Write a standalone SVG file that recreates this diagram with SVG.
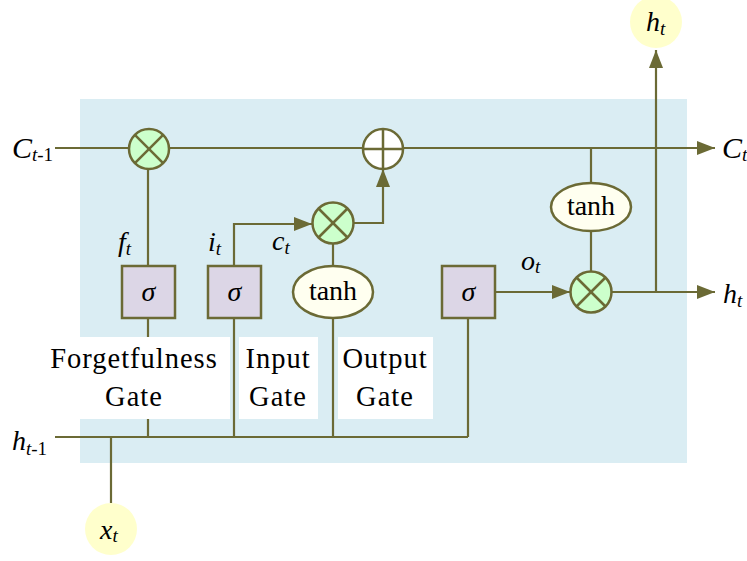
<svg xmlns="http://www.w3.org/2000/svg" width="747" height="561" viewBox="0 0 747 561" font-family="Liberation Serif, serif">
<defs>
<marker id="arr" markerUnits="userSpaceOnUse" viewBox="0 0 18 14" refX="18" refY="7" markerWidth="18" markerHeight="14" orient="auto">
<path d="M0,0 L18,7 L0,14 Z" fill="#6b6a35"/>
</marker>
</defs>
<style>
.ln{stroke:#6b6a35;stroke-width:2.2;fill:none}
.mul{fill:#ccffcc;stroke:#6b6a35;stroke-width:2.5}
.add{fill:#ffffff;stroke:#6b6a35;stroke-width:2.5}
.x{stroke:#6b6a35;stroke-width:2.5}
.box{fill:#dcd6e6;stroke:#6b6a35;stroke-width:2.5}
.ell{fill:#fffff0;stroke:#6b6a35;stroke-width:2.5}
.io{fill:#ffffcc}
.wb{fill:#ffffff}
.lbl{font-size:28.5px;letter-spacing:1px;text-anchor:middle}
.it{font-style:italic}
.big{font-size:28px}
.sub{font-size:19px}
</style>
<rect id="background" x="80" y="99" width="607" height="364" fill="#daedf3"/>
<g id="connectors">
<line class="ln" x1="55" y1="148" x2="715" y2="148" marker-end="url(#arr)"/>
<line class="ln" x1="55" y1="437" x2="468" y2="437"/>
<line class="ln" x1="468" y1="437" x2="468" y2="318"/>
<line class="ln" x1="148" y1="437" x2="148" y2="318"/>
<line class="ln" x1="148" y1="266" x2="148" y2="169"/>
<line class="ln" x1="234" y1="437" x2="234" y2="318"/>
<path class="ln" d="M234,266 V224 H312" marker-end="url(#arr)"/>
<line class="ln" x1="333" y1="437" x2="333" y2="318"/>
<line class="ln" x1="333" y1="266" x2="333" y2="244"/>
<path class="ln" d="M353,223 H383 V169" marker-end="url(#arr)"/>
<line class="ln" x1="111" y1="437" x2="111" y2="503"/>
<line class="ln" x1="591" y1="148" x2="591" y2="183"/>
<line class="ln" x1="591" y1="231" x2="591" y2="272"/>
<line class="ln" x1="495" y1="292" x2="570" y2="292" marker-end="url(#arr)"/>
<line class="ln" x1="611" y1="292" x2="715" y2="292" marker-end="url(#arr)"/>
<line class="ln" x1="656" y1="292" x2="656" y2="50" marker-end="url(#arr)"/>
</g>
<g id="forget-gate-label">
<rect class="wb" x="45" y="337" width="185" height="82"/>
<text class="lbl" x="134" y="368" font-family="Liberation Serif">Forgetfulness</text>
<text class="lbl" x="134" y="406" font-family="Liberation Serif">Gate</text>
</g>
<g id="input-gate-label">
<rect class="wb" x="239" y="337" width="79" height="82"/>
<text class="lbl" x="278" y="368" font-family="Liberation Serif">Input</text>
<text class="lbl" x="278" y="406" font-family="Liberation Serif">Gate</text>
</g>
<g id="output-gate-label">
<rect class="wb" x="338" y="337" width="95" height="82"/>
<text class="lbl" x="385" y="368" font-family="Liberation Serif">Output</text>
<text class="lbl" x="385" y="406" font-family="Liberation Serif">Gate</text>
</g>
<g id="mul-forget">
<circle class="mul" cx="149" cy="149" r="20"/>
<line class="x" x1="134.9" y1="134.9" x2="163.1" y2="163.1"/>
<line class="x" x1="163.1" y1="134.9" x2="134.9" y2="163.1"/>
</g>
<g id="add-cell">
<circle class="add" cx="383" cy="149" r="20"/>
<line class="x" x1="363" y1="149" x2="403" y2="149"/>
<line class="x" x1="383" y1="129" x2="383" y2="169"/>
</g>
<g id="mul-input">
<circle class="mul" cx="333" cy="223" r="20.5"/>
<line class="x" x1="318.5" y1="208.5" x2="347.5" y2="237.5"/>
<line class="x" x1="347.5" y1="208.5" x2="318.5" y2="237.5"/>
</g>
<g id="mul-output">
<circle class="mul" cx="591" cy="292" r="20.5"/>
<line class="x" x1="576.5" y1="277.5" x2="605.5" y2="306.5"/>
<line class="x" x1="605.5" y1="277.5" x2="576.5" y2="306.5"/>
</g>
<g id="sigma-forget">
<rect class="box" x="122" y="266" width="53" height="52"/>
<text class="it big" x="148.5" y="301" text-anchor="middle" font-family="Liberation Serif">σ</text>
</g>
<g id="sigma-input">
<rect class="box" x="208" y="266" width="53" height="52"/>
<text class="it big" x="234.5" y="301" text-anchor="middle" font-family="Liberation Serif">σ</text>
</g>
<g id="sigma-output">
<rect class="box" x="442" y="266" width="53" height="52"/>
<text class="it big" x="468.5" y="301" text-anchor="middle" font-family="Liberation Serif">σ</text>
</g>
<g id="tanh-input">
<ellipse class="ell" cx="333" cy="292" rx="40" ry="26"/>
<text class="big" x="333" y="300" text-anchor="middle" font-family="Liberation Serif">tanh</text>
</g>
<g id="tanh-output">
<ellipse class="ell" cx="591" cy="207" rx="40" ry="24"/>
<text class="big" x="591" y="215" text-anchor="middle" font-family="Liberation Serif">tanh</text>
</g>
<g id="ht-out">
<circle class="io" cx="656" cy="22" r="26"/>
<text class="it big" x="646" y="31" font-family="Liberation Serif">h<tspan class="sub" dy="4">t</tspan></text>
</g>
<g id="xt-in">
<circle class="io" cx="111" cy="529" r="26"/>
<text class="it big" x="100" y="539" font-family="Liberation Serif">x<tspan class="sub" dy="3">t</tspan></text>
</g>
<g id="labels" font-family="Liberation Serif">
<text class="it" x="12" y="158" font-size="30">C<tspan class="sub" dy="3">t</tspan><tspan class="sub" font-style="normal">-1</tspan></text>
<text class="it big" x="12" y="450">h<tspan class="sub" dy="5">t</tspan><tspan class="sub" font-style="normal">-1</tspan></text>
<text class="it" x="722" y="158" font-size="30">C<tspan class="sub" dy="3">t</tspan></text>
<text class="it big" x="723" y="303">h<tspan class="sub" dy="4">t</tspan></text>
<text class="it big" x="118" y="251">f<tspan class="sub" dy="4">t</tspan></text>
<text class="it big" x="208" y="251">i<tspan class="sub" dy="4">t</tspan></text>
<text class="it big" x="272" y="250">c<tspan class="sub" dy="4">t</tspan></text>
<text class="it big" x="521" y="270">o<tspan class="sub" dy="3">t</tspan></text>
</g>
</svg>
